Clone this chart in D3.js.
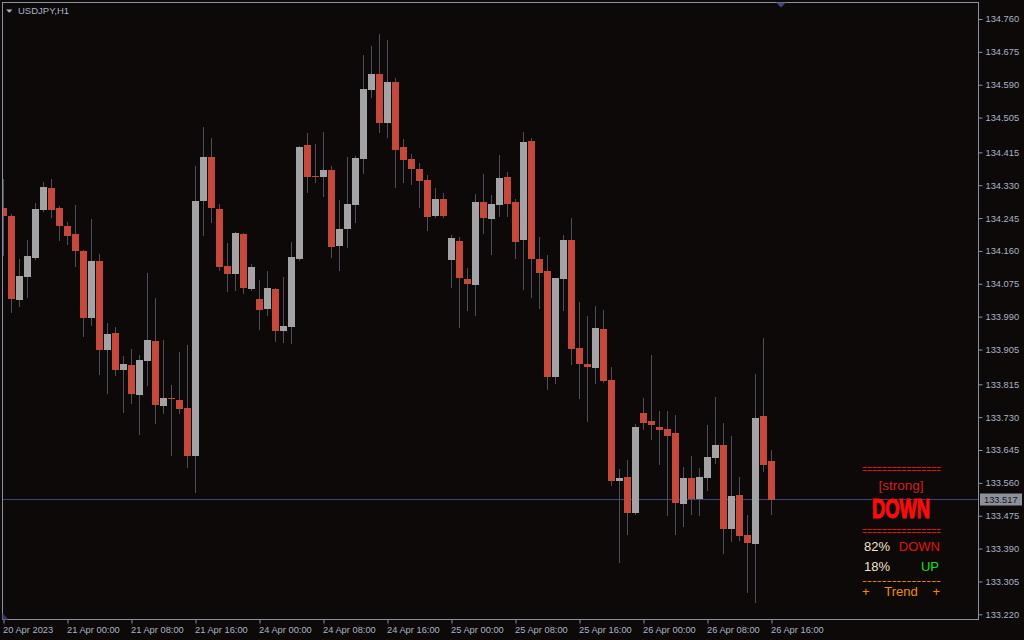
<!DOCTYPE html>
<html><head><meta charset="utf-8">
<script src="https://cdn.jsdelivr.net/npm/d3@7"></script>
<style>html,body{margin:0;padding:0;background:#0c0908;}svg{display:block}</style>
</head><body>
<svg id="c" width="1024" height="640"></svg>
<script>
const symbol = "USDJPY,H1";
const opens  = [134.271,134.251,134.033,134.093,134.142,134.266,134.323,134.271,134.225,134.204,134.160,133.987,134.134,133.904,133.948,133.852,133.865,133.787,133.875,133.927,133.759,133.780,133.775,133.754,133.629,134.289,134.403,134.268,134.121,134.100,134.204,134.062,134.036,134.010,134.062,133.953,133.963,134.139,134.434,134.354,134.351,134.369,134.173,134.217,134.279,134.398,134.576,134.618,134.491,134.596,134.429,134.398,134.372,134.344,134.250,134.294,134.137,134.186,134.087,134.072,134.287,134.243,134.279,134.351,134.287,134.188,134.444,134.139,134.108,133.834,134.087,134.188,133.909,133.868,133.857,133.958,133.826,133.565,133.575,133.482,133.741,133.720,133.705,133.699,133.689,133.505,133.573,133.518,133.573,133.624,133.658,133.441,133.529,133.425,133.402,133.733,133.617];
const highs  = [134.346,134.255,134.139,134.188,134.284,134.338,134.346,134.276,134.235,134.279,134.163,134.243,134.152,133.974,133.963,133.888,133.906,133.891,134.103,134.038,133.930,133.813,133.899,133.917,134.380,134.481,134.452,134.281,134.181,134.209,134.206,134.126,134.085,134.108,134.064,134.093,134.183,134.432,134.465,134.437,134.468,134.380,134.292,134.403,134.406,134.667,134.690,134.721,134.705,134.607,134.449,134.411,134.388,134.356,134.323,134.310,134.201,134.196,134.116,134.307,134.359,134.305,134.408,134.364,134.294,134.468,134.452,134.196,134.150,134.090,134.201,134.245,134.028,133.992,134.018,134.007,133.860,133.596,133.619,133.712,133.780,133.891,133.746,133.746,133.736,133.601,133.630,133.599,133.710,133.782,133.715,133.681,133.575,133.477,133.842,133.935,133.645];
const lows   = [134.150,134.002,134.018,134.041,134.139,134.263,134.248,134.188,134.178,134.121,133.940,133.969,133.842,133.793,133.839,133.744,133.767,133.687,133.813,133.715,133.741,133.632,133.741,133.601,133.537,134.201,134.235,134.111,134.057,134.059,134.051,134.059,133.958,133.994,133.927,133.925,133.922,134.137,134.313,134.338,134.302,134.144,134.111,134.170,134.235,134.362,134.558,134.468,134.455,134.325,134.338,134.333,134.274,134.214,134.248,134.248,134.067,133.963,134.007,133.994,134.206,134.152,134.250,134.250,134.142,134.062,134.041,134.012,133.803,133.819,134.007,133.868,133.780,133.720,133.819,133.821,133.555,133.355,133.428,133.480,133.699,133.674,133.609,133.477,133.428,133.448,133.480,133.477,133.542,133.612,133.379,133.410,133.412,133.278,133.252,133.591,133.480];
const closes = [134.250,134.036,134.095,134.147,134.269,134.325,134.266,134.225,134.199,134.160,133.987,134.134,133.904,133.945,133.852,133.868,133.790,133.878,133.930,133.762,133.780,133.777,133.751,133.629,134.289,134.403,134.271,134.118,134.100,134.206,134.064,134.118,134.007,134.064,133.953,133.966,134.144,134.429,134.351,134.351,134.369,134.170,134.217,134.281,134.400,134.579,134.618,134.491,134.596,134.421,134.395,134.372,134.341,134.248,134.294,134.250,134.194,134.090,134.075,134.287,134.245,134.281,134.349,134.281,134.183,134.442,134.139,134.103,133.834,134.090,134.188,133.906,133.868,133.860,133.961,133.824,133.565,133.573,133.482,133.705,133.715,133.710,133.697,133.681,133.508,133.573,133.518,133.575,133.627,133.658,133.441,133.526,133.423,133.405,133.728,133.606,133.517];
const xTickIdx = [0,8,16,24,32,40,48,56,64,72,80,88,96];
const xTickLabels = ["20 Apr 2023","21 Apr 00:00","21 Apr 08:00","21 Apr 16:00","24 Apr 00:00","24 Apr 08:00","24 Apr 16:00","25 Apr 00:00","25 Apr 08:00","25 Apr 16:00","26 Apr 00:00","26 Apr 08:00","26 Apr 16:00"];
const yTickLabels = ["134.760","134.675","134.590","134.505","134.415","134.330","134.245","134.160","134.075","133.990","133.905","133.815","133.730","133.645","133.560","133.475","133.390","133.305","133.220"];
const currentPrice = 133.517;
const panelStrength = "[strong]";
const panelSignal = "DOWN";
const pctDown = 82, pctUp = 18;

const W = 1024, H = 640;
const plotL = 2.5, plotT = 2.5, plotR = 978.5, plotB = 619.5;
const svg = d3.select("#c");
svg.append("rect").attr("width", W).attr("height", H).attr("fill", "#0c0908");

const x = d3.scaleLinear().domain([0, opens.length - 1]).range([3.5, 3.5 + 8 * (opens.length - 1)]);
const y = d3.scaleLinear().domain([133.220, 134.760]).range([614.3, 19]);
const font = "'Liberation Sans', Arial, sans-serif";
const axisCol = "#8a90a0", textCol = "#aab3ca";

svg.append("clipPath").attr("id", "clip").append("rect")
  .attr("x", 3).attr("y", 3).attr("width", 975).attr("height", 616);

const g = svg.append("g").attr("clip-path", "url(#clip)");

// current price line
const cy = Math.round(y(currentPrice)) + 0.5;
g.append("line").attr("x1", 3).attr("x2", 978)
  .attr("y1", cy).attr("y2", cy)
  .attr("stroke", "#3d4282").attr("stroke-width", 1);

const data = opens.map((o, i) => ({i, o, h: highs[i], l: lows[i], c: closes[i]}));
g.selectAll("line.wick").data(data).enter().append("line").attr("class", "wick")
  .attr("x1", d => x(d.i)).attr("x2", d => x(d.i))
  .attr("y1", d => Math.round(y(d.h))).attr("y2", d => Math.round(y(d.l)) + 1)
  .attr("stroke", "#4a4f5b").attr("stroke-width", 1);
g.selectAll("rect.body").data(data).enter().append("rect").attr("class", "body")
  .attr("x", d => x(d.i) - 3.5).attr("width", 7)
  .attr("y", d => Math.round(y(Math.max(d.o, d.c))))
  .attr("height", d => Math.max(1, Math.round(Math.abs(y(d.o) - y(d.c)))))
  .attr("fill", d => d.c >= d.o ? "#a3a3a5" : "#c4493a");

// frame
svg.append("rect").attr("x", plotL).attr("y", plotT).attr("width", plotR - plotL).attr("height", plotB - plotT)
  .attr("fill", "none").attr("stroke", axisCol).attr("stroke-width", 1);

// Y axis
const yAxis = d3.axisRight(y).tickValues(yTickLabels.map(Number))
  .tickFormat((d, i) => yTickLabels[i]).tickSize(4).tickPadding(3);
const ya = svg.append("g").attr("transform", `translate(${plotR},0)`).call(yAxis);
ya.select(".domain").remove();
ya.selectAll("line").attr("stroke", axisCol);
ya.selectAll("text").attr("fill", textCol).style("font-family", font).style("font-size", "9.3px");

// X axis
const xAxis = d3.axisBottom(x).tickValues(xTickIdx)
  .tickFormat((d, i) => xTickLabels[i]).tickSize(4).tickPadding(3);
const xa = svg.append("g").attr("transform", `translate(0,${plotB})`).call(xAxis);
xa.select(".domain").remove();
xa.selectAll("line").attr("stroke", axisCol);
xa.selectAll("text").attr("fill", textCol).attr("text-anchor", "start").attr("dx", -1)
  .style("font-family", font).style("font-size", "9.3px");

// current price label
svg.append("rect").attr("x", 980).attr("y", cy - 6).attr("width", 42).attr("height", 12).attr("fill", "#8d919b");
svg.append("text").attr("x", 984).attr("y", cy + 3.5).text(currentPrice.toFixed(3))
  .attr("fill", "#15151f").style("font-family", font).style("font-size", "9.3px");

// title
svg.append("path").attr("d", "M6,9.5 L12.5,9.5 L9.25,12.8 Z").attr("fill", textCol);
svg.append("text").attr("x", 18).attr("y", 14).text(symbol)
  .attr("fill", textCol).style("font-family", font).style("font-size", "9.5px");

// markers
svg.append("path").attr("d", "M776,2.5 L786,2.5 L781,7.5 Z").attr("fill", "#3f4677");
svg.append("path").attr("d", "M2.5,613 L2.5,619.5 L8.5,619.5 Z").attr("fill", "#2e3366");

// indicator panel
const pf = "'Liberation Sans', Arial, sans-serif";
const panel = svg.append("g");
function eqLine(yy, col, ch) {
  panel.append("text").attr("x", 862).attr("y", yy).text(ch.repeat(16))
    .attr("textLength", 79).attr("lengthAdjust", "spacingAndGlyphs")
    .attr("fill", col).style("font-family", pf).style("font-size", "11px");
}
eqLine(473, "#e01414", "=");
eqLine(535, "#e01414", "=");
eqLine(584, "#f08c00", "-");
panel.append("text").attr("x", 901).attr("y", 490).attr("text-anchor", "middle").text(panelStrength)
  .attr("fill", "#d81e1e").style("font-family", pf).style("font-size", "13.5px");
panel.append("text").attr("x", 872).attr("y", 517.5).text(panelSignal)
  .attr("textLength", 58).attr("lengthAdjust", "spacingAndGlyphs")
  .attr("fill", "#ff0a0a").attr("stroke", "#ff0a0a").attr("stroke-width", 1.1)
  .style("font-family", pf).style("font-weight", "bold").style("font-size", "27px");
panel.append("text").attr("x", 864).attr("y", 551).text(pctDown + "%")
  .attr("fill", "#f2e2c8").style("font-family", pf).style("font-size", "13px");
panel.append("text").attr("x", 940).attr("y", 551).attr("text-anchor", "end").text("DOWN")
  .attr("fill", "#e01414").style("font-family", pf).style("font-size", "13px");
panel.append("text").attr("x", 864).attr("y", 571).text(pctUp + "%")
  .attr("fill", "#f2e2c8").style("font-family", pf).style("font-size", "13px");
panel.append("text").attr("x", 939).attr("y", 571).attr("text-anchor", "end").text("UP")
  .attr("fill", "#18e018").style("font-family", pf).style("font-size", "13px");
panel.append("text").attr("x", 862).attr("y", 596).text("+")
  .attr("fill", "#f08c00").style("font-family", pf).style("font-size", "13px");
panel.append("text").attr("x", 901).attr("y", 596).attr("text-anchor", "middle").text("Trend")
  .attr("fill", "#f08c00").style("font-family", pf).style("font-size", "13px");
panel.append("text").attr("x", 940).attr("y", 596).attr("text-anchor", "end").text("+")
  .attr("fill", "#f08c00").style("font-family", pf).style("font-size", "13px");
</script>
</body></html>
